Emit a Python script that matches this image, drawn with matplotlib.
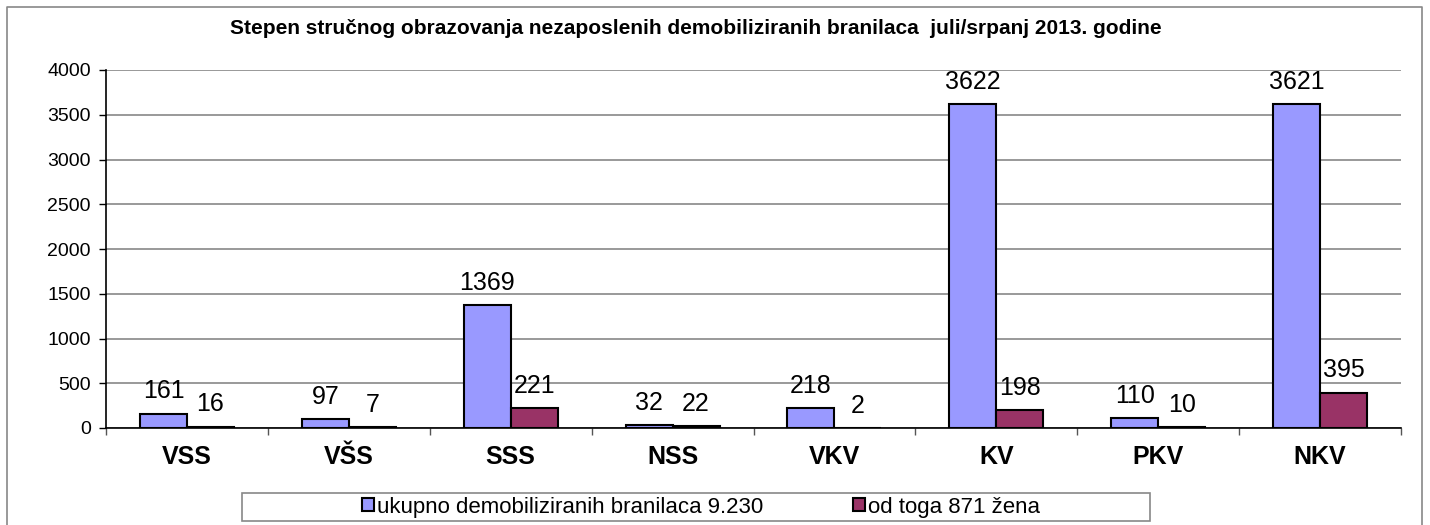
import matplotlib.pyplot as plt
import numpy as np
from matplotlib.patches import Rectangle
from matplotlib.lines import Line2D

plt.rcParams['font.family'] = ['Liberation Sans', 'DejaVu Sans']

# Data
categories = ["VSS", "VŠS", "SSS", "NSS", "VKV", "KV", "PKV", "NKV"]
ukupno = [161, 97, 1369, 32, 218, 3622, 110, 3621]
zene = [16, 7, 221, 22, 2, 198, 10, 395]
series_names = ["ukupno demobiliziranih branilaca 9.230", "od toga 871 žena"]

fig = plt.figure(figsize=(14.3, 5.25), dpi=100)

# outer chart border (no bottom edge visible)
fig.add_artist(Line2D([7/1430, 7/1430, 1422/1430, 1422/1430], [0, 1 - 7/525, 1 - 7/525, 0],
                      transform=fig.transFigure, color='#888888', lw=1.2))

ax = fig.add_axes([106/1430, 1 - 428/525, (1401 - 106)/1430, (428 - 70)/525])

x = np.arange(len(categories))
w = 0.29
b1 = ax.bar(x - w/2, ukupno, w, color='#9999FF', edgecolor='black', linewidth=1.5, zorder=3)
b2 = ax.bar(x + w/2, zene, w, color='#993366', edgecolor='black', linewidth=1.5, zorder=3)

# value labels
for bars, vals in ((b1, ukupno), (b2, zene)):
    for r, v in zip(bars, vals):
        ax.annotate(str(v), (r.get_x() + r.get_width()/2, r.get_height()),
                    xytext=(0, 11), textcoords='offset points',
                    ha='center', va='baseline', fontsize=18)

ax.set_xlim(-0.5, len(categories) - 0.5)
ax.set_ylim(0, 4000)
ax.set_yticks(np.arange(0, 4001, 500))
ax.yaxis.grid(True, color='#888888', lw=1.2, zorder=0)
ax.tick_params(axis='y', labelsize=14, length=5, width=1, pad=6)

ax.set_xticks(x)
ax.set_xticklabels(categories, fontsize=18, fontweight='bold')
ax.set_xticks(np.arange(-0.5, len(categories)), minor=True)
ax.tick_params(axis='x', which='major', length=0, pad=12)
ax.tick_params(axis='x', which='minor', length=5, width=1, color='#555555')

for s in ('top', 'right'):
    ax.spines[s].set_visible(False)
ax.spines['left'].set_linewidth(1.2)
ax.spines['bottom'].set_linewidth(1.2)

fig.text(696/1430, 1 - 28/525, "Stepen stručnog obrazovanja nezaposlenih demobiliziranih branilaca  juli/srpanj 2013. godine",
         ha='center', va='center', fontsize=15, fontweight='bold')

# legend: frame drawn separately, entries centred inside
fig.add_artist(Rectangle((242/1430, 1 - 521/525), (1150 - 242)/1430, 28/525,
                         transform=fig.transFigure, facecolor='white', edgecolor='#888888', lw=1.2))
handles = [Rectangle((0, 0), 1, 1, facecolor='#9999FF', edgecolor='black', lw=1.5),
           Rectangle((0, 0), 1, 1, facecolor='#993366', edgecolor='black', lw=1.5)]
leg = fig.legend(handles, series_names, loc='center', bbox_to_anchor=(701/1430, 1 - 507/525),
                 ncol=2, fontsize=16, frameon=False,
                 handlelength=0.55, handleheight=0.55, handletextpad=0.15, columnspacing=4.0,
                 borderpad=0, borderaxespad=0)

fig.savefig('out.png', dpi=100)
